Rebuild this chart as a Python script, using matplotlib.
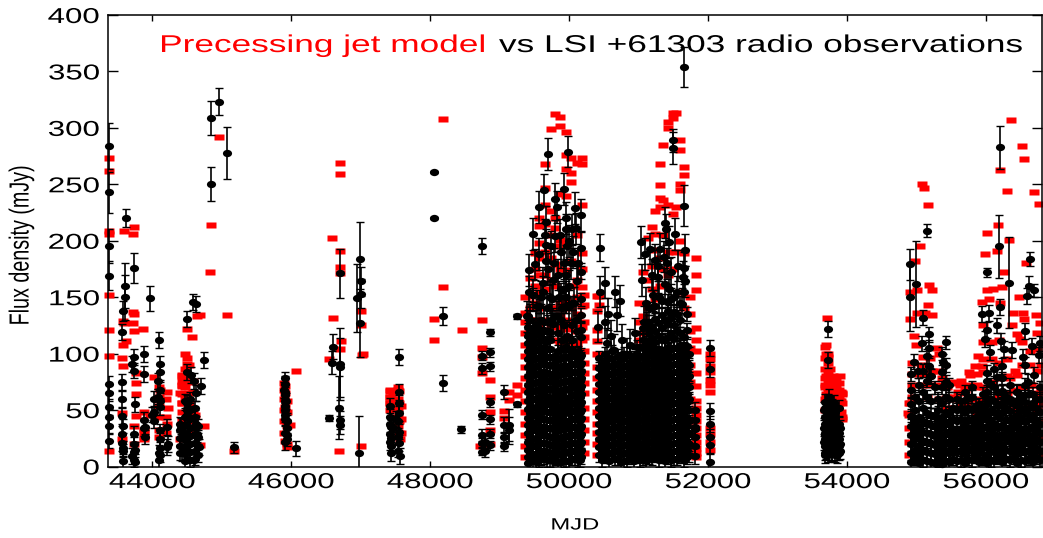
import matplotlib
matplotlib.use("Agg")
import matplotlib.pyplot as plt
from matplotlib.patheffects import AbstractPathEffect
from matplotlib.transforms import Affine2D
from matplotlib.path import Path

plt.rcParams['font.family'] = ['Liberation Sans', 'DejaVu Sans']

x_ticks = [44000, 46000, 48000, 50000, 52000, 54000, 56000]
y_ticks = [0, 50, 100, 150, 200, 250, 300, 350, 400]

# === Radio observations, single points with their own error bars ===
obs_mjd = [43380, 43380, 43380, 43380, 43626, 43602, 43602, 43573, 43731, 43966, 44845, 44953, 44845, 45080, 45180,
           46993, 47000, 47000, 46950, 46990, 46695, 46970, 46600, 46585, 46705, 46705, 46542, 46690, 46705, 46705,
           48048, 48048, 48182, 48182, 48441, 48743, 48854, 48743, 48854, 48743, 48854, 48854, 48743, 48854, 48863,
           48863, 48743, 48743, 48743, 49060, 49060, 49060, 49060, 49127, 49127, 49247, 49247, 51655, 51492, 51492,
           51655, 50436, 54911, 54911, 54993, 55151, 56202, 56182, 56019, 56336, 56633, 56624, 56691, 56585]
obs_flux = [284, 243, 195, 169, 220, 160, 150, 138, 176, 149, 309, 323, 250, 278, 17,
            184, 164, 153, 149, 127, 171, 12, 106, 92, 91, 88, 43, 52, 41, 37,
            261, 220, 133, 74, 33, 195, 119, 98, 101, 87, 89, 57, 46, 42, 29,
            19, 28, 21, 13, 66, 37, 26, 18, 37, 32, 133, 55, 354, 289, 282,
            231, 194, 179, 150, 162, 209, 283, 195, 172, 163, 184, 160, 156, 151]
obs_err = [20, 18, 15, 13, 8, 20, 20, 9, 13, 11, 15, 12, 15, 23, 5,
           33, 13, 13, 30, 30, 22, 33, 11, 10, 32, 26, 3, 28, 8, 8,
           1, 1, 8, 7, 3, 7, 3, 4, 4, 5, 4, 4, 4, 4, 4,
           4, 5, 4, 3, 6, 7, 5, 4, 14, 12, 2, 2, 18, 10, 14,
           18, 12, 14, 30, 38, 6, 19, 28, 4, 40, 6, 9, 6, 7]

# lower points, read one by one, all about the same error
low_mjd = [43380, 43380, 43380, 43380, 43380, 43380, 43573, 43568, 43559, 43564, 43568, 43568, 43568, 43741, 43712,
           43741, 43880, 43880, 43731, 43746, 43707, 43746, 43746, 43880, 43880, 44105, 44105, 44086, 44105, 44086,
           44019, 44105, 43995, 44105, 44211, 44211, 44221, 44101, 44101, 44101, 44504, 44585, 44624, 44739, 44556,
           44604, 44700, 44633, 44499, 44499, 44499, 44624, 44412, 44643, 44427, 44499, 44671, 44427, 44499, 44595,
           44499, 45914, 45914, 45914, 45914, 45914, 45914, 45938, 46067, 45938, 45900, 45925, 47549, 47549, 47424,
           47424, 47415, 47424, 47424, 47439, 47544, 47544, 47544, 47544, 47568, 47460, 47500, 53722, 53722, 53732,
           53684, 53804, 53876, 53660, 53732, 53660, 53900, 53684, 53900, 53684, 53760, 53820, 53700, 53780, 53860,
           53660, 53740, 53830, 53890, 53700, 53780, 53860, 55175, 55075, 54969, 55180, 55185, 55027, 55194, 55386,
           55098, 55938, 56043, 56206, 56154, 56010, 56561, 55986, 56211, 56058, 56259, 56369, 56657, 56777, 56528,
           56561, 56767, 56235, 56019, 56154, 56695, 56609, 56019, 56250, 56441, 56321, 56561, 55986, 51813, 51813,
           51813, 51813, 51813, 52028, 52028, 52028, 52028, 52028, 52028, 52019, 51813, 51813]
low_flux = [73, 65, 53, 44, 36, 23, 16, 75, 60, 45, 29, 21, 119, 97, 91,
            85, 82, 34, 29, 15, 9, 4, 55, 41, 100, 91, 84, 76, 68, 62,
            60, 53, 46, 58, 35, 17, 20, 12, 6, 112, 131, 146, 144, 94, 81,
            76, 71, 65, 56, 50, 46, 38, 36, 29, 26, 22, 17, 12, 15, 6,
            84, 73, 63, 54, 46, 30, 22, 28, 16, 40, 68, 58, 97, 66, 54,
            44, 38, 29, 22, 12, 56, 47, 31, 21, 9, 34, 42, 122, 94, 62,
            57, 56, 52, 50, 46, 34, 34, 28, 20, 10, 40, 44, 42, 30, 30,
            22, 20, 18, 14, 14, 12, 10, 117, 109, 93, 105, 89, 85, 80, 93,
            132, 135, 136, 141, 125, 121, 120, 113, 111, 101, 104, 103, 107, 109, 97,
            90, 99, 89, 83, 79, 81, 75, 61, 65, 66, 59, 63, 47, 50, 41,
            26, 9, 18, 105, 86, 49, 38, 26, 19, 4, 35, 33]
low_err = 7

# upper parts of the big outbursts
upper_mjd = [49693, 49980, 49640, 49918, 49798, 49559, 49822, 50086, 50172, 49669, 49957, 49477, 49645, 49798, 49957,
             50100, 49559, 50172, 49669, 49424, 49501, 49669, 49616, 49415, 49477, 49616, 49966, 50110, 49750, 49918,
             50062, 49391, 49535, 49822, 49990, 49700, 49760, 49840, 49880, 49920, 49960, 50020, 50060, 50130, 49600,
             49680, 49740, 49880, 49920, 49960, 50000, 50040, 50100, 49440, 49520, 49590, 49720, 49780, 49850, 49900,
             50000, 50040, 49860, 49740, 49500, 49560, 49630, 49700, 49770, 49840, 49900, 49970, 50040, 50110, 50170,
             51381, 51395, 51525, 51036, 51165, 51093, 51309, 51429, 51660, 51237, 51405, 51645, 51045, 51271, 50518,
             50436, 50652, 50724, 50551, 50685, 50412, 50508, 50599, 51213, 51645, 51669, 51429, 51117, 50542, 50638,
             50829, 51021, 51190, 51280, 51370, 51460, 51560, 51630, 51110, 51200, 51290, 51380, 51470, 51550, 51620,
             50950, 51080, 50880, 50760]
upper_flux = [277, 279, 245, 246, 237, 230, 230, 229, 223, 217, 220, 206, 205, 204, 210,
              211, 188, 194, 196, 174, 179, 182, 163, 155, 152, 155, 195, 164, 148, 157,
              145, 133, 142, 133, 142, 175, 165, 170, 190, 180, 170, 180, 190, 180, 130,
              140, 130, 130, 125, 150, 160, 125, 130, 130, 125, 150, 150, 180, 150, 140,
              200, 210, 205, 195, 118, 122, 128, 120, 126, 118, 112, 116, 112, 120, 115,
              216, 210, 206, 199, 193, 188, 193, 199, 192, 183, 180, 176, 165, 168, 163,
              155, 155, 147, 135, 134, 124, 128, 116, 142, 155, 164, 157, 123, 109, 103,
              100, 106, 170, 178, 186, 172, 178, 168, 145, 152, 150, 162, 148, 155, 144,
              118, 128, 108, 112]
upper_err = 14

# === Dense seasons: one list of fluxes per column of MJD ===
band1_mjd = [49400, 49480, 49560, 49640, 49720, 49800, 49880, 49960, 50040, 50120, 50175]
band1_flux = [
    [3, 8, 15, 22, 30, 37, 43, 51, 58, 66, 72, 80, 88, 95, 102, 109, 116, 124, 133],
    [5, 11, 18, 24, 32, 38, 46, 52, 60, 67, 74, 81, 87, 95, 101, 108, 115, 122, 152],
    [6, 13, 20, 27, 33, 41, 47, 55, 62, 68, 75, 83, 90, 96, 103, 111, 118, 142],
    [8, 14, 21, 29, 35, 42, 50, 56, 64, 70, 78, 84, 92, 99, 106, 113, 121],
    [6, 12, 19, 26, 34, 41, 48, 55, 61, 69, 76, 82, 90, 97, 104, 112, 119],
    [7, 15, 22, 28, 36, 43, 49, 57, 63, 71, 77, 84, 91, 98, 133],
    [4, 11, 18, 25, 33, 39, 46, 54, 60, 67, 75, 82, 88, 96, 104, 157],
    [5, 13, 20, 27, 34, 40, 48, 55, 61, 69, 76, 83, 89, 97, 106, 142],
    [7, 14, 21, 28, 35, 42, 49, 56, 63, 70, 77, 84, 91, 98, 104, 145],
    [6, 12, 19, 27, 33, 41, 47, 54, 62, 68, 75, 83, 90, 96, 101],
    [8, 15, 22, 29, 36, 43, 50, 57, 64, 71, 78, 85, 92, 99, 121, 134, 148, 172],
]
fill1_mjd = [49440, 49520, 49600, 49680, 49760, 49840, 49920, 50000, 50080, 50150]
fill1_flux = [
    [5, 12, 19, 26, 33, 40, 47, 54, 62, 69, 76, 84, 91, 98, 105, 112],
    [4, 10, 18, 25, 32, 39, 46, 53, 60, 68, 75, 82, 89, 96, 103, 110, 118],
    [7, 14, 21, 28, 35, 42, 49, 56, 63, 70, 77, 84, 91, 98, 105, 112],
    [6, 13, 20, 27, 34, 41, 48, 55, 62, 69, 76, 83, 90, 97, 104, 111],
    [5, 12, 19, 26, 33, 40, 47, 54, 61, 68, 75, 82, 89, 96],
    [4, 11, 18, 25, 32, 39, 46, 53, 60, 67, 74, 81, 88, 95, 102],
    [6, 13, 20, 27, 34, 41, 48, 55, 62, 69, 76, 83, 90, 97, 104],
    [5, 12, 19, 26, 33, 40, 47, 54, 61, 68, 75, 82, 89, 96, 103],
    [7, 14, 21, 28, 35, 42, 49, 56, 63, 70, 77, 84, 91, 98],
    [6, 13, 20, 27, 34, 41, 48, 55, 62, 69, 76, 83, 90, 97],
]
band2_mjd = [50430, 50520, 50610, 50700, 50790, 50880, 50970, 51060, 51150, 51240, 51330, 51420, 51510, 51600, 51690]
band2_flux = [
    [10, 17, 24, 31, 38, 45, 52, 59, 66, 73, 80, 87, 96],
    [9, 15, 22, 29, 36, 44, 51, 58, 65, 72, 79, 86, 93, 100],
    [11, 18, 25, 32, 39, 46, 53, 60, 67, 74, 81, 88, 95, 102],
    [7, 14, 21, 28, 35, 42, 49, 56, 63, 70, 77, 84, 91, 98],
    [5, 12, 19, 26, 33, 40, 47, 54, 61, 68, 75, 82, 89, 96, 100],
    [8, 15, 22, 29, 36, 43, 50, 57, 64, 71, 78, 85, 92, 99],
    [9, 16, 23, 30, 37, 44, 51, 58, 65, 72, 79, 86, 93, 100, 106],
    [7, 14, 21, 28, 35, 42, 49, 56, 63, 70, 77, 84, 91, 98, 105, 112, 123],
    [8, 15, 22, 29, 36, 43, 50, 57, 64, 71, 78, 85, 92, 99, 108, 118, 128, 140],
    [10, 17, 24, 31, 38, 45, 52, 59, 66, 73, 80, 87, 94, 101, 110, 120, 131, 142],
    [9, 16, 23, 30, 37, 44, 51, 58, 65, 72, 79, 86, 93, 100, 112, 123, 134, 147],
    [8, 15, 22, 29, 36, 43, 50, 57, 64, 71, 78, 85, 92, 99, 106, 115, 126, 138, 147],
    [7, 14, 21, 28, 35, 42, 49, 56, 63, 70, 77, 84, 91, 98, 105, 114, 125, 137, 150],
    [9, 16, 23, 30, 37, 44, 51, 58, 65, 72, 79, 86, 93, 100, 108, 118, 130, 145],
    [8, 15, 22, 29, 36, 43, 50, 57, 64, 71, 78, 85, 92, 99, 107, 121, 135],
]
fill2_mjd = [50475, 50565, 50655, 50745, 50835, 50925, 51015, 51105, 51195, 51285, 51375, 51465, 51555, 51645, 51720]
fill2_flux = [
    [6, 13, 20, 27, 34, 41, 48, 55, 62, 69, 76, 83, 90],
    [5, 12, 19, 26, 33, 40, 47, 54, 61, 68, 75, 82, 89, 96],
    [7, 14, 21, 28, 35, 42, 49, 56, 63, 70, 77, 84, 91],
    [4, 11, 18, 25, 32, 39, 46, 53, 60, 67, 74, 81, 88, 95],
    [6, 13, 20, 27, 34, 41, 48, 55, 62, 69, 76, 83, 90],
    [5, 12, 19, 26, 33, 40, 47, 54, 61, 68, 75, 82, 89, 96],
    [6, 13, 20, 27, 34, 41, 48, 55, 62, 69, 76, 83, 90, 97],
    [5, 12, 19, 26, 33, 40, 47, 54, 61, 68, 75, 82, 89, 96, 103, 110],
    [7, 14, 21, 28, 35, 42, 49, 56, 63, 70, 77, 84, 91, 98, 105, 114, 124],
    [6, 13, 20, 27, 34, 41, 48, 55, 62, 69, 76, 83, 90, 97, 104, 116, 127],
    [5, 12, 19, 26, 33, 40, 47, 54, 61, 68, 75, 82, 89, 96, 103, 112, 130],
    [6, 13, 20, 27, 34, 41, 48, 55, 62, 69, 76, 83, 90, 97, 104, 118, 132],
    [7, 14, 21, 28, 35, 42, 49, 56, 63, 70, 77, 84, 91, 98, 105, 120, 135],
    [6, 13, 20, 27, 34, 41, 48, 55, 62, 69, 76, 83, 90, 97, 104, 115],
    [10, 20, 30, 40, 50, 60, 70, 80, 90, 100],
]
band3_mjd = [54920, 55030, 55150, 55260, 55370, 55470, 55580, 55690, 55800, 55900, 56010, 56120, 56230, 56340, 56450, 56560, 56670, 56770]
band3_flux = [
    [4, 12, 20, 28, 36, 45, 55, 68, 82],
    [3, 10, 18, 27, 35, 44, 58, 72],
    [5, 13, 22, 30, 38, 47, 62, 76, 98],
    [3, 11, 19, 27, 36, 46, 70],
    [2, 9, 17, 26, 35, 44, 56, 70, 84, 100],
    [4, 12, 20, 29, 38, 47, 60, 72],
    [5, 13, 21, 30, 40, 50, 60],
    [3, 11, 20, 28, 37, 48, 59, 66],
    [6, 14, 22, 31, 40, 50, 62, 70],
    [4, 12, 21, 30, 38, 46, 55],
    [3, 10, 18, 27, 36, 45, 55, 66, 76],
    [5, 13, 20, 29, 38, 48, 58, 70, 86],
    [4, 11, 19, 28, 37, 47, 56, 67, 78],
    [6, 14, 22, 31, 40, 49, 60, 72],
    [3, 12, 20, 29, 38, 46, 55, 66],
    [5, 13, 21, 30, 39, 48, 57, 72],
    [4, 11, 19, 28, 36, 46, 56, 64],
    [6, 14, 22, 30, 38, 48, 60, 70],
]
fill3_mjd = [54975, 55090, 55205, 55315, 55420, 55525, 55635, 55745, 55850, 55955, 56065, 56175, 56285, 56395, 56505, 56615, 56720]
fill3_flux = [
    [7, 15, 24, 32, 40, 50, 62],
    [6, 14, 23, 31, 40, 52, 66, 85],
    [4, 12, 21, 29, 37, 46, 58, 80],
    [6, 15, 23, 31, 40, 50, 60],
    [5, 13, 22, 30, 39, 48, 62, 75, 90, 110],
    [7, 16, 24, 33, 42, 52],
    [6, 15, 24, 33, 42, 52, 58],
    [7, 16, 24, 33, 42, 52, 62],
    [9, 17, 26, 35, 44, 54],
    [7, 16, 25, 34, 42, 52, 64],
    [6, 14, 23, 32, 40, 50, 60, 72],
    [8, 16, 24, 34, 44, 54, 66],
    [7, 15, 24, 33, 42, 52, 62],
    [8, 17, 26, 35, 44, 55],
    [6, 16, 24, 33, 42, 52, 62],
    [7, 15, 24, 33, 42, 52, 64],
    [8, 16, 24, 32, 41, 52, 60],
]
blob44_mjd = [44400, 44470, 44540, 44610, 44660, 43570, 43740, 44110, 44020, 43890, 45905, 45935, 47430, 47540, 53680, 53730, 53780, 53830, 53880, 48790]
blob44_flux = [
    [12, 18, 25, 32, 38],
    [5, 11, 17, 24, 30, 37, 44, 58],
    [6, 13, 20, 27, 34, 42, 50, 60],
    [7, 14, 21, 29, 36, 44, 52],
    [10, 18, 26, 36],
    [5, 14, 36],
    [6, 13, 20],
    [10, 16, 24, 32],
    [48, 40],
    [35, 26],
    [42, 50, 58, 66, 78],
    [24, 34, 40],
    [35, 25, 18],
    [40, 26, 14],
    [12, 18, 24, 30, 38, 44, 52],
    [10, 16, 22, 28, 36, 42, 50, 58],
    [12, 18, 24, 32, 38, 46, 54],
    [10, 16, 22, 28, 36, 42, 48],
    [12, 18, 24, 30, 38],
    [14, 22],
]
dense_err = 6

# === Precessing jet model ===
model_mjd = [43380, 43380, 43588, 43730, 43720, 44953, 44845, 44835, 45080, 46700, 46700, 46590, 46696, 46696, 43380,
             43380, 43380, 43573, 43716, 43730, 43588, 43722, 43866, 43730, 43624, 43573, 43760, 43760, 43760, 43760,
             43380, 43380, 43578, 43568, 43373, 43568, 43568, 43741, 43741, 43875, 43875, 44019, 44115, 43962, 44211,
             44221, 44211, 44091, 44091, 44499, 44643, 44681, 44571, 44499, 44499, 44427, 44427, 44427, 44403, 44499,
             44427, 44619, 44739, 44403, 44691, 45180, 46067, 45914, 45914, 45914, 45986, 45914, 45938, 46600, 46542,
             46715, 46705, 46695, 46681, 46998, 46998, 47031, 47017, 46998, 47424, 47544, 47424, 47544, 47544, 47424,
             47544, 47568, 48177, 48177, 48048, 48048, 48451, 48743, 48743, 48743, 48743, 48863, 48863, 48863, 48863,
             48863, 49060, 49060, 49127, 49247, 49247, 49127, 48719, 53708, 53690, 53700, 53720, 53890, 53924, 53924,
             53924, 53700, 53760, 53830, 53680, 53720, 53760, 53800, 53840, 53880, 53920, 53690, 53740, 53790, 53840,
             53890, 53680, 53740, 53800, 53860, 53920, 56360, 56523, 56551, 56206, 56307, 56695, 56758, 56178, 56019,
             56336, 56154, 55990, 56575, 56259, 56235, 56096, 56010, 56048, 56480, 55938, 56202, 56393, 56537, 56715,
             56547, 56777, 56369, 56451, 56729, 56489, 56633, 55880, 55075, 55103, 55161, 55055, 54979, 55185, 55218,
             55003, 54907, 55161, 55003, 55218, 55122, 54907, 54964, 54993, 55098, 55290, 55626, 55770, 55842, 55938,
             55530, 55700, 55880, 54907, 54883, 55146, 56441, 56340, 56650, 56790, 55600, 55480, 55220, 55360, 55710]
model_flux = [209, 206, 209, 212, 206, 292, 214, 172, 134, 269, 259, 202, 191, 177, 273,
              262, 152, 129, 137, 135, 127, 127, 122, 120, 111, 108, 83, 74, 64, 45,
              121, 98, 89, 96, 14, 47, 24, 36, 20, 31, 26, 79, 68, 46, 66,
              52, 38, 32, 26, 122, 133, 134, 115, 96, 91, 81, 76, 71, 65, 59,
              56, 46, 36, 24, 19, 14, 85, 71, 65, 53, 37, 23, 17, 132, 95,
              111, 104, 171, 14, 138, 125, 100, 99, 18, 67, 67, 62, 56, 40, 56,
              30, 24, 308, 159, 131, 112, 121, 130, 105, 97, 83, 77, 62, 48, 32,
              20, 49, 43, 59, 72, 63, 66, 18, 132, 108, 100, 97, 80, 65, 56,
              44, 80, 78, 76, 72, 70, 70, 70, 68, 66, 64, 64, 62, 60, 60,
              58, 50, 48, 46, 44, 42, 307, 284, 272, 263, 244, 243, 233, 214, 207,
              201, 191, 188, 180, 172, 159, 157, 156, 148, 150, 146, 145, 136, 136, 134,
              131, 127, 125, 117, 118, 113, 102, 98, 250, 247, 232, 195, 182, 161, 156,
              156, 155, 143, 136, 134, 136, 131, 116, 108, 97, 105, 72, 81, 89, 89,
              75, 68, 70, 56, 47, 62, 81, 78, 72, 66, 66, 60, 85, 78, 55]

# model points around and inside the dense seasons
model1_mjd = [49360, 49430, 49500, 49570, 49650, 49730, 49800, 49870, 49950, 50030, 50110, 50180, 50210]
model1_flux = [
    [8, 18, 28, 38, 48, 58, 68, 78, 88, 98, 108, 118, 128, 136, 150],
    [120, 130, 140, 151, 167],
    [130, 145, 160, 175, 189],
    [125, 140, 155, 170, 185, 198, 213, 220],
    [130, 157, 170, 190, 215, 232, 247, 268],
    [125, 140, 165, 185, 205, 226, 299],
    [112, 124, 140, 160, 179, 195, 211, 220, 312],
    [110, 122, 134, 145, 175, 201, 241, 302, 310],
    [110, 122, 130, 148, 174, 196, 240, 264, 276, 296],
    [110, 128, 140, 160, 182, 252, 260, 273],
    [108, 120, 135, 150, 165, 205, 269],
    [112, 124, 142, 159, 175, 189, 232, 268, 273],
    [12, 22, 32, 42, 52, 65, 74, 83, 92, 102, 115, 128, 143, 152],
]
model2_mjd = [50398, 50430, 51000, 51060, 51130, 51190, 51240, 51300, 51350, 51420, 51490, 51540, 51600, 51650, 51740, 51822, 51822, 52028]
model2_flux = [
    [10, 20, 30, 38, 48, 58, 68, 78, 88, 100, 111, 121, 138, 151],
    [143, 151],
    [112, 128, 145],
    [118, 133, 172],
    [140, 165, 202],
    [157, 178, 192, 212],
    [148, 206, 226],
    [160, 185, 230, 238, 249, 268],
    [175, 205, 236, 285],
    [170, 190, 232, 300, 305],
    [175, 224, 309, 313],
    [190, 230, 313],
    [155, 200, 245, 250, 280, 289],
    [140, 189, 258, 265],
    [20, 40, 60, 75, 90, 105, 120, 135, 150],
    [185, 170, 156, 123, 112, 102, 83, 71, 58],
    [52, 46, 40, 34, 28, 22, 16, 12, 8],
    [100, 89, 77, 29, 15, 95, 84, 72, 66, 34, 22],
]
model3_mjd = [54895, 54930, 55080, 55190, 55320, 55440, 55540, 55640, 55760, 55870, 55960, 56080, 56190, 56300, 56410, 56520, 56630, 56730, 56790]
model3_flux = [
    [10, 22, 34, 46, 56],
    [62, 72, 82, 92],
    [72, 82, 90],
    [72, 84, 96],
    [60, 72, 85, 100],
    [52, 62, 70],
    [52, 62, 74],
    [55, 65, 76],
    [60, 72, 84],
    [48, 60, 72, 82],
    [58, 70, 84, 95, 110, 125],
    [60, 75, 95, 110],
    [62, 78, 92, 112],
    [50, 65, 80, 95],
    [50, 68, 85],
    [52, 70, 90, 110],
    [55, 72, 90],
    [50, 65, 85, 104],
    [10, 25, 40, 55, 70, 90],
]
# red blocks of the smaller seasons
model4_mjd = [44420, 44470, 44520, 44580, 45895, 45935, 47415, 47460, 47530, 47575, 53680, 53720, 53760, 53800, 53840, 53880, 53915, 44095, 44190, 43880]
model4_flux = [
    [40, 48, 56, 64, 72, 80],
    [60, 70, 78, 86, 100],
    [45, 55, 65, 75, 90],
    [30, 40, 50, 66, 76],
    [30, 40, 50, 60, 68, 74],
    [20, 36, 48, 58],
    [50, 56, 62, 68],
    [44, 52, 60, 66],
    [36, 44, 52, 60, 68, 70],
    [30, 42, 54],
    [60, 70, 78, 86, 96, 106],
    [60, 68, 76, 84, 92, 100],
    [60, 66, 72, 78, 86],
    [62, 68, 74, 80],
    [58, 64, 70, 78],
    [56, 62, 68, 74],
    [48, 58, 66],
    [44, 54, 62, 70],
    [30, 44, 60],
    [24, 32, 48],
]


class Stretch(AbstractPathEffect):
    # the reference text is wider than any installed font, so stretch the glyphs
    def __init__(self, sx=1.0, sy=1.0, anchor=0.5):
        super().__init__()
        self.sx, self.sy, self.anchor = sx, sy, anchor

    def draw_path(self, renderer, gc, tpath, affine, rgbFace=None):
        box = tpath.get_extents()
        x0 = box.x0 + self.anchor * box.width
        y0 = box.y0 + 0.5 * box.height
        fit = Affine2D().translate(-x0, -y0).scale(self.sx, self.sy).translate(x0, y0)
        renderer.draw_path(gc, tpath, fit + affine, rgbFace)


def flatten(mjd_list, flux_list):
    xs, ys = [], []
    for m, column in zip(mjd_list, flux_list):
        xs += [m] * len(column)
        ys += column
    return xs, ys


fig = plt.figure(figsize=(10.43, 5.38), dpi=100)
ax = fig.add_axes([108 / 1043, 1 - 466.5 / 538, 934 / 1043, 451.5 / 538])

oval = Path.unit_circle().transformed(Affine2D().scale(1.25, 1))
box = [(-1.5, -1.05), (1.5, -1.05), (1.5, 1.05), (-1.5, 1.05)]

# model goes underneath
red_x, red_y = list(model_mjd), list(model_flux)
for m_list, f_list in [(model1_mjd, model1_flux), (model2_mjd, model2_flux), (model3_mjd, model3_flux), (model4_mjd, model4_flux)]:
    xs, ys = flatten(m_list, f_list)
    red_x += xs
    red_y += ys
ax.plot(red_x, red_y, ls='none', marker=box, ms=6.8, mfc='#ff0000', mec='none', clip_on=False, zorder=2)

err_style = dict(fmt='none', ecolor='black', elinewidth=1.2, capsize=2.6, capthick=1.0, zorder=3)
ax.errorbar(obs_mjd, obs_flux, yerr=obs_err, **err_style)
ax.errorbar(low_mjd, low_flux, yerr=low_err, **err_style)
ax.errorbar(upper_mjd, upper_flux, yerr=upper_err, **err_style)
black_x = list(obs_mjd) + list(low_mjd) + list(upper_mjd)
black_y = list(obs_flux) + list(low_flux) + list(upper_flux)
for m_list, f_list in [(band1_mjd, band1_flux), (fill1_mjd, fill1_flux), (band2_mjd, band2_flux), (fill2_mjd, fill2_flux),
                       (band3_mjd, band3_flux), (fill3_mjd, fill3_flux), (blob44_mjd, blob44_flux)]:
    xs, ys = flatten(m_list, f_list)
    ax.errorbar(xs, ys, yerr=dense_err, **err_style)
    black_x += xs
    black_y += ys
ax.plot(black_x, black_y, ls='none', marker=oval, ms=6.6, mfc='black', mec='none', clip_on=False, zorder=4)

ax.set_xlim(43360, 56805)
ax.set_ylim(0, 400)
ax.set_xticks(x_ticks)
ax.set_yticks(y_ticks)
ax.tick_params(axis='x', direction='in', top=True, length=4.3, width=1.0, pad=4, labelsize=15.5)
ax.tick_params(axis='y', direction='in', right=True, length=7.2, width=1.0, pad=6, labelsize=15.5)
for lab in ax.get_xticklabels():
    lab.set_path_effects([Stretch(sx=1.45)])
for lab in ax.get_yticklabels():
    lab.set_path_effects([Stretch(sx=1.45, anchor=1.0)])
for sp in ax.spines.values():
    sp.set_linewidth(1.1)
    sp.set_zorder(5)

fig.text(160 / 1043, 1 - 52 / 538, "Precessing jet model", color='#ff0000', fontsize=17.5,
         path_effects=[Stretch(sx=1.45, anchor=0.0)])
fig.text(499 / 1043, 1 - 52 / 538, "vs LSI +61303 radio observations", color='black', fontsize=17.5,
         path_effects=[Stretch(sx=1.45, anchor=0.0)])
fig.text(575 / 1043, 1 - 525 / 538, "MJD", ha='center', va='center', fontsize=11.8, path_effects=[Stretch(sx=1.45)])
fig.text(21 / 1043, 1 - 245 / 538, "Flux density (mJy)", rotation=90, ha='center', va='center', fontsize=14.2,
         path_effects=[Stretch(sy=1.4)])

plt.savefig("out.png", dpi=100)
